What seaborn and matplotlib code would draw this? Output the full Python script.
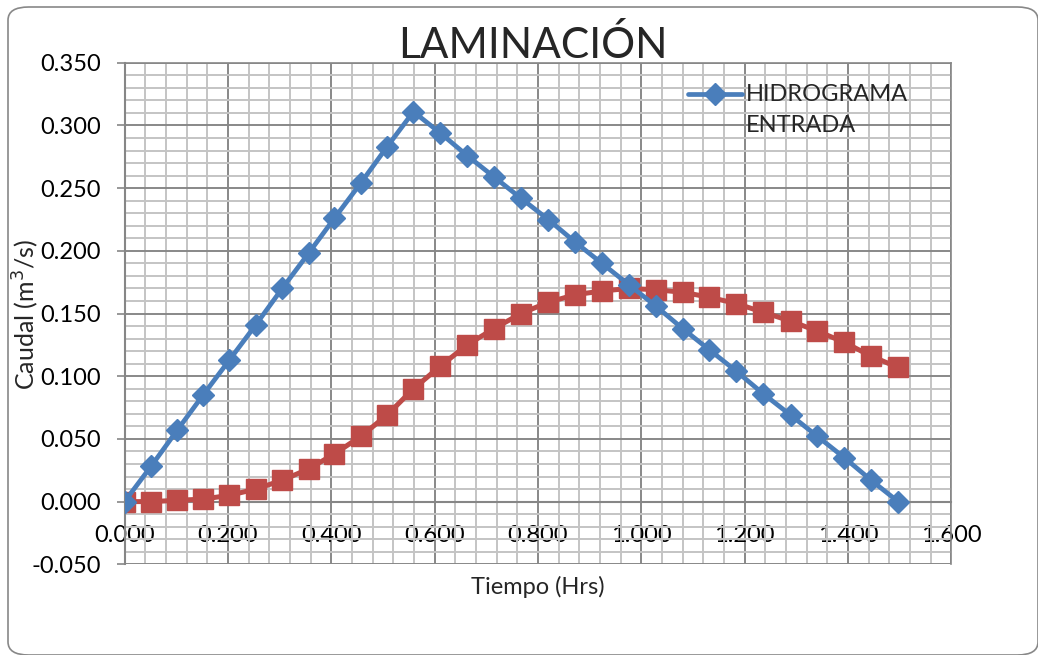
import matplotlib
matplotlib.use('Agg')
import matplotlib.pyplot as plt
import matplotlib.ticker as ticker
from matplotlib.patches import FancyBboxPatch
import seaborn as sns
import pandas as pd

# Tiempo (Hrs)
tiempo = [0.000, 0.051, 0.102, 0.152, 0.203, 0.254, 0.305, 0.356, 0.406, 0.457,
          0.508, 0.559, 0.611, 0.663, 0.715, 0.767, 0.820, 0.872, 0.924, 0.976,
          1.028, 1.080, 1.132, 1.184, 1.236, 1.289, 1.341, 1.393, 1.445, 1.497]
# Caudal (m3/s)
entrada = [0.000, 0.028, 0.057, 0.085, 0.113, 0.141, 0.170, 0.198, 0.226, 0.254,
           0.283, 0.311, 0.294, 0.276, 0.259, 0.242, 0.225, 0.207, 0.190, 0.173,
           0.156, 0.138, 0.121, 0.104, 0.086, 0.069, 0.052, 0.035, 0.017, 0.000]
salida = [0.000, 0.000, 0.001, 0.002, 0.005, 0.010, 0.017, 0.026, 0.038, 0.052,
          0.069, 0.090, 0.108, 0.125, 0.138, 0.150, 0.159, 0.165, 0.168, 0.170,
          0.169, 0.167, 0.163, 0.158, 0.151, 0.144, 0.136, 0.127, 0.116, 0.107]

x_ticks = [0.0, 0.2, 0.4, 0.6, 0.8, 1.0, 1.2, 1.4, 1.6]
y_ticks = [-0.05, 0.0, 0.05, 0.10, 0.15, 0.20, 0.25, 0.30, 0.35]

BLUE = '#4A7EBB'
RED = '#BE4B48'
FONT = ['Lato', 'DejaVu Sans']

sns.set_style('white')
plt.rcParams['font.family'] = FONT

df = pd.DataFrame({'tiempo': tiempo, 'entrada': entrada, 'salida': salida})

fig = plt.figure(figsize=(10.38, 6.55), dpi=100)
ax = fig.add_axes([0.120, 0.1385, 0.7965, 0.7656])

sns.lineplot(data=df, x='tiempo', y='entrada', ax=ax, color=BLUE, lw=3.4,
             marker='D', markersize=11, markeredgecolor=BLUE, markeredgewidth=1,
             legend=False, zorder=4)
sns.lineplot(data=df, x='tiempo', y='salida', ax=ax, color=RED, lw=3.6,
             marker='s', markersize=14, markeredgecolor=RED, markeredgewidth=1,
             legend=False, zorder=3)

ax.set_xlim(0, 1.6)
ax.set_ylim(-0.05, 0.35)
ax.set_xticks(x_ticks)
ax.set_yticks(y_ticks)
ax.xaxis.set_minor_locator(ticker.MultipleLocator(0.04))
ax.yaxis.set_minor_locator(ticker.MultipleLocator(0.01))
ax.xaxis.set_major_formatter(ticker.FormatStrFormatter('%.3f'))
ax.yaxis.set_major_formatter(ticker.FormatStrFormatter('%.3f'))

ax.grid(which='minor', color='#C4C4C4', lw=1.4, zorder=0)
ax.grid(which='major', color='#888888', lw=1.4, zorder=1)
ax.set_axisbelow(True)

for s in ['top', 'right']:
    ax.spines[s].set_color('#888888')
    ax.spines[s].set_linewidth(1.2)
ax.spines['left'].set_color('#868686')
ax.spines['left'].set_linewidth(1.5)
ax.spines['bottom'].set_position(('data', 0))
ax.spines['bottom'].set_color('#868686')
ax.spines['bottom'].set_linewidth(1.5)

ax.tick_params(axis='y', which='major', length=6, width=1.2, color='#868686',
               pad=11, labelsize=17, labelcolor='black', left=True)
ax.tick_params(axis='x', which='major', length=0, pad=17, labelsize=17,
               labelcolor='black')
ax.tick_params(which='minor', length=0)
ax.set_xlabel('')
ax.set_ylabel('')

fig.text(533 / 1038, 1 - 58 / 655, 'LAMINACIÓN', fontsize=30.5, ha='center',
         va='baseline', family=FONT)
fig.text(26 / 1038, 1 - 315 / 655, 'Caudal (m$^3$/s)', fontsize=18, rotation=90,
         ha='center', va='center', family=FONT)
fig.text(538 / 1038, 1 - 587 / 655, 'Tiempo (Hrs)', fontsize=17, ha='center',
         va='center', family=FONT)

handle = ax.get_lines()[0]
leg = ax.legend(handles=[handle], labels=['HIDROGRAMA\nENTRADA'], loc='upper left',
                bbox_to_anchor=(688 / 1038, 1 - 84 / 655),
                bbox_transform=fig.transFigure, frameon=False, fontsize=17,
                handlelength=2.3, handletextpad=0.15, borderpad=0,
                borderaxespad=0, labelspacing=0.2)
leg.get_texts()[0].set_linespacing(1.6)
leg_line = leg.get_lines()[0]
leg_line.set_ydata([y + 11.5 for y in leg_line.get_ydata()])

border = FancyBboxPatch((8 / 1038, 0 / 655), 1030 / 1038, 648 / 655,
                        boxstyle='round,pad=0,rounding_size=0.02',
                        transform=fig.transFigure, fill=False,
                        edgecolor='#888888', lw=1.2, clip_on=False)
fig.patches.append(border)

fig.savefig('out.png', dpi=100)
